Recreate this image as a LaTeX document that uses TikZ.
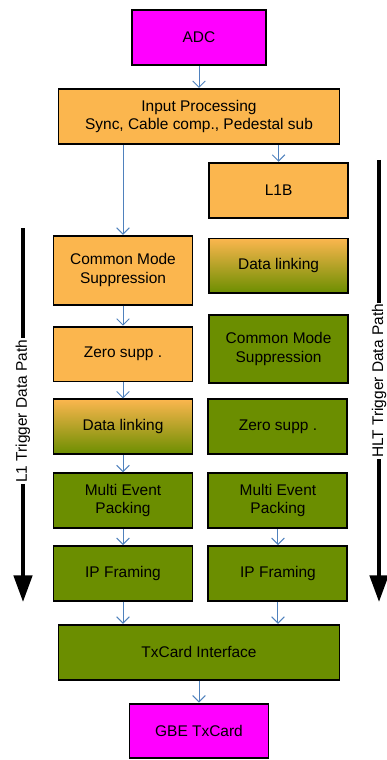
\documentclass[tikz,border=0pt]{standalone}
\usepackage{fontspec}
\setmainfont{Liberation Sans}
\usepackage{tikz}
\usetikzlibrary{arrows.meta, positioning}

\definecolor{procorange}{RGB}{251,182,78}
\definecolor{procgreen}{RGB}{107,142,0}
\definecolor{iomagenta}{RGB}{255,0,255}
\definecolor{flowblue}{RGB}{79,129,189}

\begin{document}
\begin{tikzpicture}[
  node distance = 0.45cm and 0.35cm,
  box/.style    = {rectangle, draw, line width=1.4pt, fill=procorange,
                   minimum width=3.475cm, minimum height=1.37cm, align=center,
                   inner sep=1pt, font=\fontsize{11}{13.2}\selectfont},
  hlt/.style    = {box, fill=procgreen},
  mixed/.style  = {box, top color=procorange, bottom color=procgreen},
  io/.style     = {box, fill=iomagenta},
  flow/.style   = {-{Straight Barb[length=4.5pt,width=9pt]}, flowblue, line width=0.7pt},
  path/.style   = {-{Triangle[length=19pt,width=13pt]}, line width=2.8pt},
  pathlbl/.style= {fill=white, inner sep=1pt, rotate=90, font=\fontsize{11}{13.2}\selectfont}
]
\useasboundingbox (0,0) rectangle (9.675,-19);

\node[io, minimum width=3.35cm] (adc) at (4.975,-0.94) {ADC};
\node[box, minimum width=7.025cm, below=0.55cm of adc] (input) {Input Processing\\Sync, Cable comp., Pedestal sub};
\node[box, below=0.425cm of input, xshift=1.99cm] (l1b) {L1B};

% L1 column
\node[box, minimum height=1.725cm, below=2.25cm of input, xshift=-1.9cm] (cmsL) {Common Mode\\Suppression};
\node[box, below=0.5cm of cmsL]   (zeroL) {Zero supp .};
\node[mixed, below=0.4cm of zeroL] (dlL) {Data linking};
\node[hlt, below=0.425cm of dlL]  (mepL) {Multi Event\\Packing};
\node[hlt, below=0.4cm of mepL]   (ipL) {IP Framing};

% HLT column
\node[mixed, below=0.475cm of l1b] (dlR) {Data linking};
\node[hlt, minimum height=1.7cm, below=0.5cm of dlR] (cmsR) {Common Mode\\Suppression};
\node[hlt, right=of dlL]  (zeroR) {Zero supp .};
\node[hlt, right=of mepL] (mepR) {Multi Event\\Packing};
\node[hlt, right=of ipL]  (ipR) {IP Framing};

\node[hlt, minimum width=7.025cm, below=0.55cm of ipL, xshift=1.9cm] (txcard) {TxCard Interface};
\node[io, below=0.55cm of txcard] (gbe) {GBE TxCard};

% Arrows between blocks
\draw[flow] (adc) -- (input);
\draw[flow] (input.south -| cmsL) -- (cmsL);
\draw[flow] (input.south -| l1b) -- (l1b);
\draw[flow] (cmsL) -- (zeroL);
\draw[flow] (zeroL) -- (dlL);
\draw[flow] (dlL) -- (mepL);
\draw[flow] (mepL) -- (ipL);
\draw[flow] (mepR) -- (ipR);
\draw[flow] (ipL) -- (txcard.north -| ipL);
\draw[flow] (ipR) -- (txcard.north -| ipR);
\draw[flow] (txcard) -- (gbe);

% Data path arrows
\coordinate (l1top) at (0.575,-5.7);
\coordinate (l1end) at (0.575,-15.05);
\coordinate (hlttop) at (9.475,-4.0);
\coordinate (hltend) at (9.475,-15.05);
\draw[path] (l1top) -- node[pathlbl, pos=0.49] (l1lbl) {L1 Trigger Data Path} (l1end);
\draw[path] (hlttop) -- node[pathlbl, pos=0.5] (hltlbl) {HLT Trigger Data Path} (hltend);

\end{tikzpicture}
\end{document}
